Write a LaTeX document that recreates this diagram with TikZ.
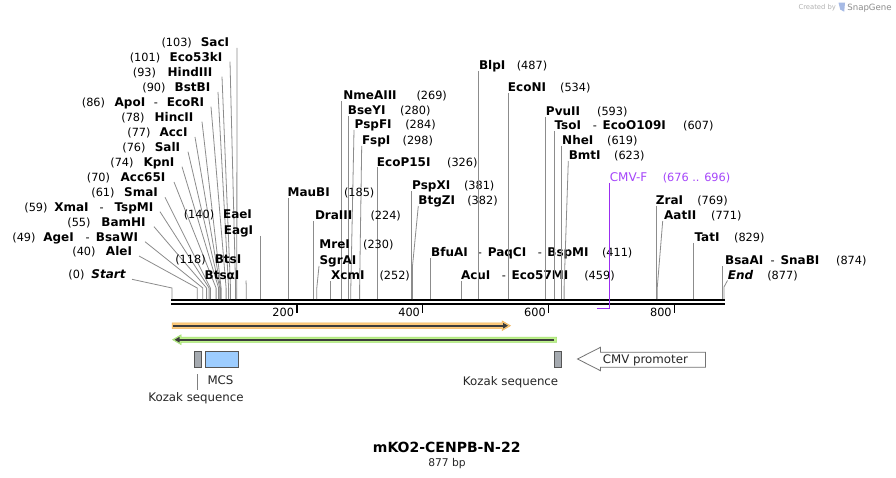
\documentclass[tikz,border=0pt]{standalone}
\usepackage{fontspec}
\setmainfont{DejaVu Sans}[ItalicFont={DejaVu Sans Oblique},BoldItalicFont={DejaVu Sans Bold Oblique}]
\usetikzlibrary{arrows.meta}
\definecolor{cnc}{RGB}{140,140,140}
\definecolor{dk}{RGB}{60,60,60}
\definecolor{orL}{RGB}{253,202,125}
\definecolor{orD}{RGB}{240,180,90}
\definecolor{grL}{RGB}{190,242,140}
\definecolor{grD}{RGB}{160,222,110}
\definecolor{kzF}{RGB}{165,170,176}
\definecolor{mcsF}{RGB}{157,205,255}
\definecolor{bxD}{RGB}{85,85,85}
\definecolor{prP}{RGB}{155,45,240}
\definecolor{prT}{RGB}{165,70,250}
\newcommand\enzN[4]{\node[nmst] (#1) at (#2,#3) {#4};}
\newcommand\enzP[4]{\node[nust] (#1) at (#2,#3) {#4};}
\newcommand\enzD[3]{\node[dsst] (#1) at (#2,#3) {-};}
\newcommand\enzL[5]{\coordinate (#1a) at (#2,#3); \coordinate (#1b) at (#4,#5); \coordinate (#1c) at (#4,299); \draw[cnst] (#1a) -- (#1b) -- (#1c);}
\begin{document}
\begin{tikzpicture}[x=1pt,y=-1pt,
  nmst/.style={font=\fontsize{12}{14}\selectfont\bfseries, anchor=base, yshift=-4.4pt, inner sep=0pt},
  nmit/.style={font=\fontsize{12}{14}\selectfont\bfseries\itshape, anchor=base, yshift=-4.4pt, inner sep=0pt},
  nust/.style={font=\fontsize{11.3}{14}\selectfont, anchor=base, yshift=-4.4pt, inner sep=0pt},
  dsst/.style={font=\fontsize{11.3}{14}\selectfont, anchor=base, yshift=-4.4pt, inner sep=0pt},
  cnst/.style={draw=cnc, line width=0.8pt},
  flab/.style={font=\fontsize{11.8}{14}\selectfont, anchor=base, inner sep=0pt, text=black!85},
  tklab/.style={font=\fontsize{11.3}{14}\selectfont, anchor=base, inner sep=0pt},
  boxst/.style={draw=bxD, line width=0.8pt, inner sep=0pt},
]
\fill[white] (0,0) rectangle (896,478);
\useasboundingbox (0,0) rectangle (896,478);

% watermark
\node[font=\fontsize{6.8}{8}\selectfont, text=black!30, anchor=base, inner sep=0pt] (cby) at (817.2,9.5) {Created by};
\node[font=\fontsize{8.6}{10}\selectfont, text=black!45, anchor=base, inner sep=0pt] (sgn) at (869.5,10.5) {SnapGene};
\fill[cyan!45!blue!35] (838.5,2.7) -- (845,2.7) -- (844.2,11.7) -- (840.2,9.5) -- cycle;

% ruler
\coordinate (r0) at (171,300); \coordinate (r1) at (725,300);
\coordinate (q0) at (171,304); \coordinate (q1) at (725,304);
\draw[line width=2.1pt] (r0) -- (r1);
\draw[line width=2pt] (q0) -- (q1);
\foreach \t/\x in {200/296.7,400/422.6,600/548.5,800/674.4}{
  \coordinate (tk\t a) at (\x,305); \coordinate (tk\t b) at (\x,312.5);
  \draw[line width=1.6pt] (tk\t a) -- (tk\t b);
  \node[tklab] (tl\t) at (\x-13.5,316) {\t};
}

% left cluster
\enzP{p103}{176.7}{42.3}{(103)} \enzN{n103}{215}{42.3}{SacI} \enzL{l103}{237}{48}{236.8}{288}
\enzP{p101}{145}{56.7}{(101)} \enzN{n101}{196}{56.7}{Eco53kI} \enzL{l101}{230}{61.7}{235.6}{288}
\enzP{p93}{144.5}{71.7}{(93)} \enzN{n93}{190}{71.7}{HindIII} \enzL{l93}{222}{76.7}{230.5}{288}
\enzP{p90}{154}{87}{(90)} \enzN{n90}{192.5}{87}{BstBI} \enzL{l90}{218}{92}{228.6}{288}
\enzP{p86}{93.5}{101.7}{(86)} \enzN{n86a}{130}{101.7}{ApoI} \enzD{d86}{156}{101.7} \enzN{n86b}{185.5}{101.7}{EcoRI} \enzL{l86}{211}{106.7}{226.1}{288}
\enzP{p78}{133}{116.7}{(78)} \enzN{n78}{174}{116.7}{HincII} \enzL{l78}{202}{121.7}{221.1}{288}
\enzP{p77}{139}{132}{(77)} \enzN{n77}{173.5}{132}{AccI} \enzL{l77}{195}{137}{220.5}{288}
\enzP{p76}{134}{146.7}{(76)} \enzN{n76}{167.5}{146.7}{SalI} \enzL{l76}{188}{151.7}{219.8}{288}
\enzP{p74}{122}{161.7}{(74)} \enzN{n74}{159}{161.7}{KpnI} \enzL{l74}{182}{166.7}{218.6}{288}
\enzP{p70}{98.5}{177}{(70)} \enzN{n70}{143}{177}{Acc65I} \enzL{l70}{174}{182}{216.1}{288}
\enzP{p61}{103}{192.3}{(61)} \enzN{n61}{141}{192.3}{SmaI} \enzL{l61}{165}{197.3}{210.4}{288}
\enzP{p59}{36}{206.7}{(59)} \enzN{n59a}{71.5}{206.7}{XmaI} \enzD{d59}{101.7}{206.7} \enzN{n59b}{134}{206.7}{TspMI} \enzL{l59}{160}{211.7}{209.1}{288}
\enzP{p55}{79}{221.7}{(55)} \enzN{n55}{123.5}{221.7}{BamHI} \enzL{l55}{154}{226.7}{206.6}{288}
\enzP{p49}{24}{236.7}{(49)} \enzN{n49a}{58.5}{236.7}{AgeI} \enzD{d49}{87.7}{236.7} \enzN{n49b}{117}{236.7}{BsaWI} \enzL{l49}{145}{241.7}{202.8}{288}
\enzP{p40}{84}{251}{(40)} \enzN{n40}{119}{251}{AleI} \enzL{l40}{139}{256}{197.2}{288}
\enzP{p0}{76.5}{274.3}{(0)} \node[nmit] (n0) at (108.5,274.3) {Start}; \enzL{l0}{132}{279.3}{172}{288}
\enzP{p140}{199}{214.3}{(140)} \enzN{n140a}{237.5}{214.3}{EaeI} \enzN{n140b}{238.5}{230}{EagI} \enzL{l140}{260.1}{236}{260.1}{236}
\enzP{p118}{190.5}{259.3}{(118)} \enzN{n118a}{228}{259.3}{BtsI} \enzN{n118b}{222}{275}{BtsαI} \enzL{l118}{246}{280.5}{246.3}{288}

% middle / right
\enzN{n269}{370}{95}{NmeAIII} \enzP{p269}{431.7}{95}{(269)} \enzL{l269}{341.3}{101}{341.3}{101}
\enzN{n280}{366.7}{110}{BseYI} \enzP{p280}{415.3}{110}{(280)} \enzL{l280}{348.2}{116}{348.2}{116}
\enzN{n284}{373.2}{124.3}{PspFI} \enzP{p284}{420.5}{124.3}{(284)} \enzL{l284}{354}{130}{350.8}{288}
\enzN{n298}{376.2}{140}{FspI} \enzP{p298}{417.8}{140}{(298)} \enzL{l298}{361.7}{146}{359.6}{288}
\enzN{n326}{403.7}{161.7}{EcoP15I} \enzP{p326}{462.3}{161.7}{(326)} \enzL{l326}{377.2}{167}{377.2}{167}
\enzN{n185}{308.7}{192.3}{MauBI} \enzP{p185}{359.2}{192.3}{(185)} \enzL{l185}{288.4}{198}{288.4}{198}
\enzN{n381}{431.2}{185}{PspXI} \enzP{p381}{479.2}{185}{(381)} \enzL{l381}{411.8}{191}{411.8}{191}
\enzN{n382}{436.7}{200}{BtgZI} \enzP{p382}{482.5}{200}{(382)} \enzL{l382}{418.3}{206}{412.4}{267}
\enzN{n224}{333.7}{215}{DraIII} \enzP{p224}{385.7}{215}{(224)} \enzL{l224}{313}{221}{313}{221}
\enzN{n230a}{334.7}{244.3}{MreI} \enzP{p230}{378.3}{244.3}{(230)} \enzN{n230b}{338}{260}{SgrAI} \enzL{l230}{319}{266}{316.8}{288}
\enzN{n252}{347.8}{275}{XcmI} \enzP{p252}{394.7}{275}{(252)} \enzL{l252}{330.6}{281}{330.6}{281}
\enzN{n411a}{449.5}{251.7}{BfuAI} \enzD{d411a}{480}{251.7} \enzN{n411b}{507}{251.7}{PaqCI} \enzD{d411b}{540}{251.7} \enzN{n411c}{568}{251.7}{BspMI} \enzP{p411}{617.2}{251.7}{(411)} \enzL{l411}{430.7}{258}{430.7}{258}
\enzN{n459a}{475.7}{275}{AcuI} \enzD{d459}{504}{275} \enzN{n459b}{540}{275}{Eco57MI} \enzP{p459}{599.5}{275}{(459)} \enzL{l459}{460.9}{281}{460.9}{281}
\enzN{n487}{492.2}{65}{BlpI} \enzP{p487}{532}{65}{(487)} \enzL{l487}{478.5}{71}{478.5}{71}
\enzN{n534}{527}{86.7}{EcoNI} \enzP{p534}{575.3}{86.7}{(534)} \enzL{l534}{508.1}{93}{508.1}{93}
\enzN{n593}{563}{110.7}{PvuII} \enzP{p593}{612.3}{110.7}{(593)} \enzL{l593}{545.2}{117}{545.2}{117}
\enzN{n607a}{567.8}{125}{TsoI} \enzD{d607}{595}{125} \enzN{n607b}{634.2}{125}{EcoO109I} \enzP{p607}{698.3}{125}{(607)} \enzL{l607}{554}{131}{554}{131}
\enzN{n619}{577.8}{140}{NheI} \enzP{p619}{622.3}{140}{(619)} \enzL{l619}{561.6}{146}{561.6}{146}
\enzN{n623}{584.7}{155}{BmtI} \enzP{p623}{629.3}{155}{(623)} \enzL{l623}{568.3}{161}{564.1}{287}
\enzN{n769}{669.5}{200}{ZraI} \enzP{p769}{712.5}{200}{(769)} \enzL{l769}{656}{206}{656}{206}
\enzN{n771}{680.2}{215}{AatII} \enzP{p771}{726.3}{215}{(771)} \enzL{l771}{662.7}{221}{657.3}{287}
\enzN{n829}{707}{237.3}{TatI} \enzP{p829}{749.3}{237.3}{(829)} \enzL{l829}{693.8}{243}{693.8}{243}
\enzN{n874a}{744.2}{260}{BsaAI} \enzD{d874}{772.7}{260} \enzN{n874b}{800}{260}{SnaBI} \enzP{p874}{851.3}{260}{(874)} \enzL{l874}{722.1}{266}{722.1}{266}
\node[nmit] (n877) at (740.5,275) {End}; \enzP{p877}{782.5}{275}{(877)} \enzL{l877}{727.5}{280.5}{724}{287}

% primer CMV-F
\node[nmst, font=\fontsize{12}{14}\selectfont, text=prT] (cmvf) at (628.5,176.7) {CMV-F};
\node[nust, text=prT] (cmvfn) at (696.5,176.7) {(676 .. 696)};
\coordinate (pr1) at (609.3,183); \coordinate (pr2) at (609.3,308.3); \coordinate (pr3) at (596.7,308.3);
\draw[draw=prP, line width=1.4pt] (pr1) -- (pr2) -- (pr3);

% orange feature arrow
\filldraw[fill=orL, draw=orD, line width=0.5pt] (172,322.9) -- (502,322.9) -- (502,320.8) -- (510.5,325.7) -- (502,330.6) -- (502,328.5) -- (172,328.5) -- cycle;
\coordinate (oa) at (173,325.7); \coordinate (ob) at (508,325.7);
\draw[dk, line width=1.8pt, -{Triangle[length=5pt,width=5.5pt]}] (oa) -- (ob);

% green feature arrow
\filldraw[fill=grL, draw=grD, line width=0.5pt] (556.5,337) -- (181,337) -- (181,334.8) -- (172.5,339.7) -- (181,344.6) -- (181,342.4) -- (556.5,342.4) -- cycle;
\coordinate (ga) at (554,339.7); \coordinate (gb) at (174.5,339.7);
\draw[dk, line width=1.8pt, -{Triangle[length=5pt,width=5.5pt]}] (ga) -- (gb);

% boxes
\node[boxst, fill=kzF, minimum width=7.4pt, minimum height=16.3pt] (kz1) at (198,359.2) {};
\node[boxst, fill=mcsF, minimum width=33pt, minimum height=16.3pt] (mcs) at (221.8,359.2) {};
\node[boxst, fill=kzF, minimum width=6.9pt, minimum height=16.3pt] (kz2) at (558,359.2) {};
\draw[draw=black!55, fill=white, line width=0.8pt] (577.5,359) -- (600.5,347.3) -- (600.5,352.3) -- (705.5,352.3) -- (705.5,367.3) -- (600.5,367.3) -- (600.5,370.7) -- cycle;
\node[flab] (cmvp) at (645.4,363.3) {CMV promoter};

\node[flab] (mcsl) at (220.5,384.3) {MCS};
\node[flab] (kzl1) at (196,401) {Kozak sequence};
\node[flab] (kzl2) at (510.6,385) {Kozak sequence};
\coordinate (kzc1) at (197.3,374); \coordinate (kzc2) at (197.3,390);
\draw[draw=black!50, line width=0.8pt] (kzc1) -- (kzc2);

% title
\node[font=\fontsize{14}{16}\selectfont\bfseries, anchor=base, inner sep=0pt] (ttl) at (446.7,452.7) {mKO2-CENPB-N-22};
\node[font=\fontsize{10.7}{12}\selectfont, anchor=base, inner sep=0pt, text=black!85] (bp) at (447,466) {877 bp};
\end{tikzpicture}
\end{document}
